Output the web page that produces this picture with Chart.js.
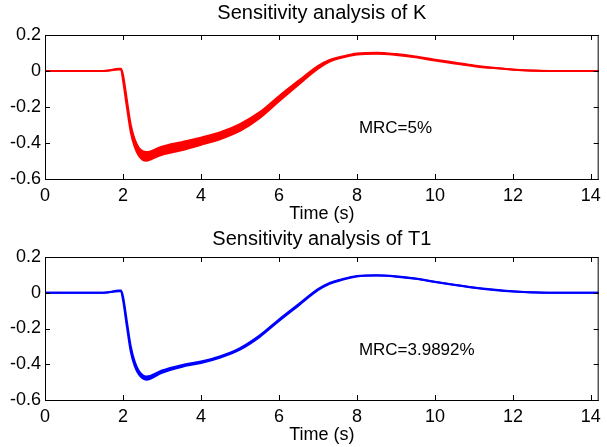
<!DOCTYPE html>
<html>
<head>
<meta charset="utf-8">
<script src="https://cdn.jsdelivr.net/npm/chart.js@4.4.1/dist/chart.umd.min.js"></script>
<style>
  body { margin:0; background:#fff; }
  #wrap { position:relative; width:607px; height:447px; }
  .box { position:absolute; left:0; width:607px; }
</style>
</head>
<body>
<div id="wrap">
  <div class="box" style="top:0;height:225px"><canvas id="chartK"></canvas></div>
  <div class="box" style="top:225px;height:222px"><canvas id="chartT1"></canvas></div>
</div>
<script>
// time axis (s)
var time = [0, 1.5, 1.9, 1.95, 2.0, 2.1, 2.2, 2.3, 2.4, 2.5, 2.6, 2.7, 2.8, 3.0, 3.5, 4.0, 4.5, 5.0, 5.5, 6.0,
    6.5, 7.0, 7.3, 7.6, 8.0, 8.5, 9.0, 9.5, 10.0, 10.5, 11.0, 11.5, 12.0, 12.5, 13.0, 14.2];

// band of responses when K varies
var kUpper = [0, 0, 0.012, 0.012, -0.02, -0.16, -0.30, -0.38, -0.425, -0.445, -0.45, -0.447, -0.438, -0.42, -0.395, -0.37,
    -0.34, -0.295, -0.23, -0.14, -0.055, 0.027, 0.061, 0.079, 0.097, 0.101, 0.094, 0.081, 0.063, 0.047, 0.031, 0.018, 0.008, 0.003, 0, 0];
var kLower = [0, 0, 0.008, 0.008, -0.05, -0.2, -0.34, -0.42, -0.468, -0.492, -0.498, -0.492, -0.482, -0.465, -0.44, -0.41,
    -0.378, -0.333, -0.262, -0.168, -0.076, 0.013, 0.052, 0.073, 0.091, 0.096, 0.089, 0.076, 0.058, 0.042, 0.027, 0.016, 0.007, 0.002, 0, 0];

// band of responses when T1 varies
var t1Upper = [0, 0, 0.012, 0.012, -0.02, -0.16, -0.30, -0.385, -0.435, -0.46, -0.468, -0.465, -0.455, -0.435, -0.405, -0.385,
    -0.355, -0.31, -0.24, -0.15, -0.065, 0.02, 0.055, 0.075, 0.094, 0.098, 0.092, 0.08, 0.062, 0.045, 0.03, 0.018, 0.008, 0.003, 0, 0];
var t1Lower = [0, 0, 0.008, 0.008, -0.04, -0.19, -0.33, -0.41, -0.455, -0.478, -0.487, -0.482, -0.47, -0.448, -0.415, -0.393,
    -0.362, -0.318, -0.248, -0.158, -0.072, 0.014, 0.05, 0.071, 0.091, 0.096, 0.09, 0.078, 0.06, 0.043, 0.028, 0.016, 0.007, 0.002, 0, 0];

var xTicks = [0, 2, 4, 6, 8, 10, 12, 14];
var yTicks = [0.2, 0, -0.2, -0.4, -0.6];

Chart.defaults.font.family = "'Liberation Sans', Arial, sans-serif";
Chart.defaults.color = '#000';

function pts(ys) {
    return time.map(function(t, i){ return {x: t, y: ys[i]}; });
}

// matlab style box with inward ticks + MRC note
var boxPlugin = {
    id: 'box',
    afterDraw: function(chart) {
        var c = chart.ctx, a = chart.chartArea;
        var xs = chart.scales.x, ys = chart.scales.y;
        c.save();
        c.strokeStyle = '#000';
        c.lineWidth = 1;
        c.strokeRect(a.left + 0.5, a.top + 0.5, a.right - a.left - 1, a.bottom - a.top);
        c.beginPath();
        xs.ticks.forEach(function(t){
            var px = Math.round(xs.getPixelForValue(t.value)) + 0.5;
            c.moveTo(px, a.bottom); c.lineTo(px, a.bottom - 5);
            c.moveTo(px, a.top); c.lineTo(px, a.top + 5);
        });
        ys.ticks.forEach(function(t){
            var py = Math.round(ys.getPixelForValue(t.value)) + 0.5;
            c.moveTo(a.left, py); c.lineTo(a.left + 5, py);
            c.moveTo(a.right, py); c.lineTo(a.right - 5, py);
        });
        c.stroke();
        var note = chart.options.plugins.box.note;
        c.font = "17px 'Liberation Sans', Arial, sans-serif";
        c.fillStyle = '#000';
        c.textBaseline = 'middle';
        c.fillText(note, xs.getPixelForValue(8.05), ys.getPixelForValue(-0.32));
        c.restore();
    }
};

function makeChart(id, title, upper, lower, color, note, topPad, areaTop, xHeight, xlabPad) {
    return new Chart(document.getElementById(id), {
        type: 'line',
        data: {
            datasets: [
                {data: pts(upper), borderColor: color, backgroundColor: color, borderWidth: 2, pointRadius: 0, fill: false, cubicInterpolationMode: 'monotone'},
                {data: pts(lower), borderColor: color, backgroundColor: color, borderWidth: 2, pointRadius: 0, fill: '-1', cubicInterpolationMode: 'monotone'}
            ]
        },
        options: {
            responsive: true,
            maintainAspectRatio: false,
            animation: false,
            layout: {padding: {right: 3, left: 0, top: 0, bottom: 0}},
            plugins: {
                legend: {display: false},
                tooltip: {enabled: false},
                title: {display: true, text: title, fullSize: false, font: {size: 20, weight: 'normal'}, color: '#000',
                    padding: {top: topPad, bottom: areaTop - topPad - 24}},
                box: {note: note}
            },
            scales: {
                x: {
                    type: 'linear', min: 0, max: 14.2,
                    afterBuildTicks: function(s){ s.ticks = xTicks.map(function(v){ return {value: v}; }); },
                    afterFit: function(s){ s.height = xHeight; },
                    grid: {display: false, drawTicks: false},
                    border: {display: false},
                    ticks: {font: {size: 18}, padding: 6, maxRotation: 0, autoSkip: false},
                    title: {display: true, text: 'Time (s)', font: {size: 18}, padding: {top: 0, bottom: xlabPad}}
                },
                y: {
                    min: -0.6, max: 0.2,
                    afterBuildTicks: function(s){ s.ticks = yTicks.map(function(v){ return {value: v}; }); },
                    afterFit: function(s){ s.width = 45; },
                    grid: {display: false, drawTicks: false},
                    border: {display: false},
                    ticks: {font: {size: 18}, padding: 4,
                        callback: function(v){ return v === 0 ? '0' : v.toFixed(1); }}
                }
            }
        },
        plugins: [boxPlugin]
    });
}

makeChart('chartK', 'Sensitivity analysis of K', kUpper, kLower, '#ff0000', 'MRC=5%', 1, 35, 46, 0);
makeChart('chartT1', 'Sensitivity analysis of T1', t1Upper, t1Lower, '#0000ff', 'MRC=3.9892%', 2, 32, 47, 1);
</script>
</body>
</html>
